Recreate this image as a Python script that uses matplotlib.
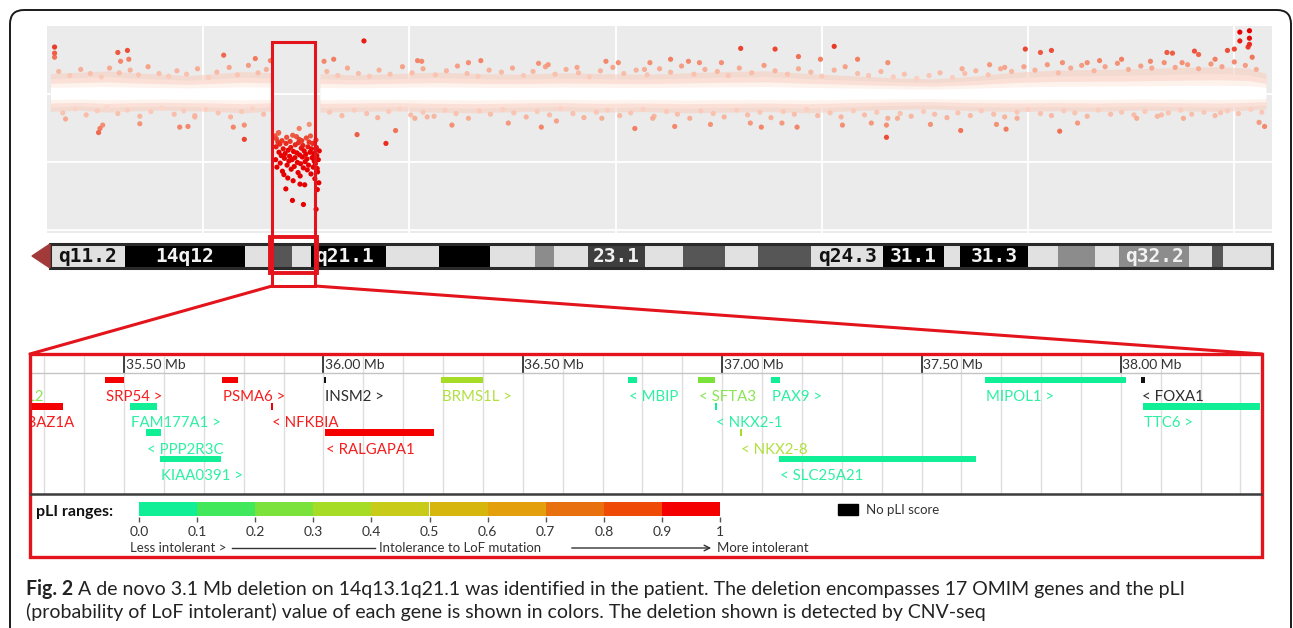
import matplotlib
matplotlib.use("Agg")
import matplotlib.pyplot as plt
import numpy as np
from matplotlib.colors import LinearSegmentedColormap, Normalize
from matplotlib.patches import Rectangle, Polygon, FancyBboxPatch, ConnectionPatch
from matplotlib.transforms import blended_transform_factory

W, H = 1293, 628
RED = "#e3141b"
FONT = ["Lato", "DejaVu Sans"]
plt.rcParams["font.family"] = FONT

# ---- chr14 CNV-seq log2 ratios (position in Mb, log2 ratio) ----
# outline of the dense band of bins around 0
band1_mb = [18.9, 21, 23, 25, 27, 29, 31, 33, 35.1]
band1_hi = [0.30, 0.32, 0.34, 0.31, 0.29, 0.27, 0.30, 0.33, 0.31]
band1_lo = [-0.26, -0.24, -0.27, -0.25, -0.24, -0.25, -0.26, -0.28, -0.25]
band2_mb = [38.5, 41, 44, 47, 50, 53, 56, 59, 62, 65, 68, 71, 74, 77, 80, 83,
            86, 89, 92, 95, 98, 101, 104, 106, 107.3]
band2_hi = [0.30, 0.28, 0.30, 0.32, 0.30, 0.29, 0.31, 0.30, 0.29, 0.31, 0.33,
            0.34, 0.30, 0.27, 0.24, 0.22, 0.26, 0.32, 0.35, 0.36, 0.37, 0.39,
            0.40, 0.38, 0.30]
band2_lo = [-0.27, -0.26, -0.25, -0.27, -0.28, -0.26, -0.25, -0.27, -0.26,
            -0.28, -0.27, -0.26, -0.28, -0.25, -0.23, -0.22, -0.25, -0.26,
            -0.25, -0.26, -0.24, -0.25, -0.26, -0.24, -0.22]

# bins at the edge of the band
edge_pts = [
    (19.5, .33), (20.3, .27), (21.1, .36), (21.8, .30), (22.6, .25), (23.2, .38),
    (23.9, .31), (24.7, .35), (25.3, .28), (26.0, .40), (26.8, .30), (27.5, .26),
    (28.1, .34), (28.8, .29), (29.6, .37), (30.4, .24), (31.0, .32), (31.9, .39),
    (32.5, .28), (33.3, .42), (34.0, .31), (34.6, .36), (39.0, .33), (39.8, .27),
    (40.5, .38), (41.3, .30), (42.1, .26), (42.8, .35), (43.6, .29), (44.5, .40),
    (45.2, .31), (46.0, .37), (46.9, .28), (47.7, .34), (48.5, .41), (49.2, .30),
    (50.0, .26), (50.8, .35), (51.7, .32), (52.5, .38), (53.3, .27), (54.0, .33),
    (54.9, .40), (55.6, .29), (56.4, .36), (57.3, .31), (58.1, .25), (58.9, .34),
    (59.8, .39), (60.6, .30), (61.5, .35), (62.3, .28), (63.2, .37), (64.0, .32),
    (64.8, .41), (65.7, .29), (66.5, .36), (67.4, .33), (68.2, .27), (69.0, .38),
    (69.9, .31), (70.8, .42), (71.6, .34), (72.5, .29), (73.3, .37), (74.2, .32),
    (75.0, .26), (75.9, .35), (76.7, .40), (77.6, .30), (78.4, .27), (79.3, .33),
    (80.2, .25), (81.0, .29), (81.9, .23), (82.8, .27), (83.6, .31), (84.5, .24),
    (85.4, .30), (86.2, .34), (87.1, .28), (88.0, .37), (88.8, .33), (89.7, .40),
    (90.5, .35), (91.4, .43), (92.2, .31), (93.1, .38), (93.9, .42), (94.8, .34),
    (95.6, .40), (96.5, .45), (97.3, .36), (98.2, .41), (99.0, .38), (99.9, .46),
    (100.7, .39), (101.6, .43), (102.4, .37), (103.3, .44), (104.1, .40),
    (105.0, .47), (105.8, .42), (106.6, .36),
    (19.8, -.28), (20.7, -.22), (21.5, -.31), (22.3, -.25), (23.0, -.20),
    (23.8, -.29), (24.5, -.24), (25.4, -.33), (26.2, -.26), (27.0, -.21),
    (27.9, -.30), (28.6, -.25), (29.4, -.32), (30.2, -.23), (31.1, -.28),
    (32.0, -.34), (32.8, -.26), (33.6, -.22), (34.4, -.30), (39.2, -.27),
    (40.1, -.32), (41.0, -.24), (41.9, -.29), (42.7, -.35), (43.5, -.26),
    (44.3, -.22), (45.1, -.31), (46.0, -.27), (46.8, -.33), (47.6, -.24),
    (48.4, -.29), (49.3, -.36), (50.1, -.25), (50.9, -.30), (51.8, -.23),
    (52.6, -.28), (53.5, -.34), (54.3, -.26), (55.2, -.31), (56.0, -.22),
    (56.9, -.29), (57.7, -.35), (58.6, -.27), (59.4, -.24), (60.3, -.32),
    (61.1, -.28), (62.0, -.23), (62.8, -.33), (63.7, -.26), (64.5, -.30),
    (65.4, -.36), (66.2, -.25), (67.1, -.29), (67.9, -.34), (68.8, -.24),
    (69.6, -.31), (70.5, -.27), (71.3, -.35), (72.2, -.26), (73.0, -.30),
    (73.9, -.23), (74.7, -.32), (75.6, -.28), (76.4, -.34), (77.3, -.25),
    (78.1, -.31), (79.0, -.27), (79.8, -.36), (80.7, -.29), (81.5, -.33),
    (82.4, -.26), (83.2, -.30), (84.1, -.35), (84.9, -.28), (85.8, -.32),
    (86.6, -.25), (87.5, -.30), (88.3, -.34), (89.2, -.27), (90.0, -.23),
    (90.9, -.29), (91.7, -.32), (92.6, -.25), (93.4, -.28), (94.3, -.33),
    (95.1, -.24), (96.0, -.30), (96.8, -.27), (97.7, -.31), (98.5, -.26),
    (99.4, -.33), (100.2, -.28), (101.1, -.24), (101.9, -.30), (102.8, -.27),
    (103.6, -.32), (104.5, -.25), (105.3, -.29), (106.2, -.23), (107.0, -.27),
]

# scattered bins away from the band
out_pts = [
    (19.2, .69), (19.2, .60), (19.2, .54), (23.8, .61), (24.5, .64), (24.0, .48),
    (24.6, .51), (31.5, .57), (33.8, .52), (34.9, .49), (41.7, .78), (39.5, .51),
    (38.8, .48), (45.6, .49), (45.9, .48), (49.3, .46), (50.2, .49), (54.4, .45),
    (55.1, .43), (57.2, .39), (59.3, .48), (60.2, .46), (62.1, .36), (69.1, .67),
    (71.6, .66), (75.9, .70), (73.3, .55), (74.9, .51), (77.6, .51), (79.8, .46),
    (62.5, .46), (64.0, .51), (65.3, .48), (66.1, .46), (67.7, .46), (85.2, .37),
    (87.2, .43), (88.3, .39), (89.8, .66), (90.9, .61), (91.7, .64), (92.5, .46),
    (94.3, .46), (95.2, .49), (96.8, .51), (100.1, .61), (100.5, .60),
    (102.1, .63), (102.4, .58), (104.5, .64), (105.0, .66), (105.4, .91),
    (106.1, .93), (105.4, .78), (106.1, .82), (106.1, .73), (106.0, .69),
    (98.9, .48), (101.2, .46), (103.6, .51), (106.3, .54),
    (20.0, -.37), (22.4, -.57), (22.5, -.51), (22.7, -.46), (25.4, -.44),
    (28.3, -.49), (28.9, -.48), (29.4, -.34), (32.2, -.49), (33.0, -.46),
    (33.0, -.67), (41.2, -.60), (43.3, -.73), (44.0, -.54), (45.4, -.36),
    (46.3, -.34), (48.1, -.46), (52.2, -.43), (54.6, -.49), (55.7, -.40),
    (59.0, -.36), (61.4, -.51), (62.7, -.36), (64.3, -.48), (66.9, -.45),
    (69.8, -.43), (70.6, -.49), (72.1, -.43), (73.2, -.49), (76.5, -.46),
    (78.6, -.43), (79.7, -.64), (79.7, -.46), (80.5, -.36), (82.9, -.45),
    (85.1, -.54), (87.7, -.45), (88.4, -.52), (89.2, -.36), (92.3, -.55),
    (93.6, -.43), (97.9, -.36), (99.7, -.31), (101.3, -.36), (104.0, -.28),
    (106.8, -.42), (107.2, -.48),
]

# bins inside the deletion
del_pts = [
    (35.22, -.62), (35.31, -.78), (35.28, -.97), (35.44, -.71), (35.37, -1.08),
    (35.52, -.86), (35.33, -.66), (35.61, -1.02), (35.58, -.74), (35.69, -.91),
    (35.47, -.58), (35.77, -1.14), (35.83, -.81), (35.74, -.69), (35.92, -.95),
    (35.88, -1.19), (36.03, -.73), (35.97, -.88), (36.11, -1.05), (36.08, -.64),
    (36.19, -.83), (36.24, -.99), (36.16, -1.24), (36.33, -.70), (36.29, -.92),
    (36.41, -1.11), (36.38, -.79), (36.52, -.61), (36.47, -.97), (36.58, -.85),
    (36.63, -1.07), (36.55, -1.28), (36.71, -.75), (36.68, -.94), (36.79, -.63),
    (36.86, -1.01), (36.82, -.87), (36.94, -.72), (36.91, -1.16), (37.02, -.90),
    (36.99, -.67), (37.09, -1.03), (37.14, -.80), (37.06, -1.21), (37.22, -.93),
    (37.18, -.69), (37.29, -1.09), (37.35, -.84), (37.26, -.76), (37.42, -1.00),
    (37.39, -1.34), (37.51, -.65), (37.47, -.89), (37.58, -1.12), (37.63, -.78),
    (37.55, -.96), (37.71, -.71), (37.67, -1.05), (37.78, -.86), (37.85, -1.18),
    (37.81, -.62), (37.93, -.94), (37.89, -.81), (38.01, -1.08), (37.97, -.73),
    (38.08, -.99), (38.13, -1.25), (38.05, -.88), (38.21, -.68), (38.17, -1.03),
    (38.27, -.91), (38.33, -1.15), (38.24, -.79), (38.38, -.97), (38.42, -1.31),
    (38.30, -1.10), (38.45, -.84), (36.02, -1.40), (36.50, -1.57), (37.30, -1.63),
    (37.05, -1.33), (38.22, -1.70), (38.31, -1.41), (35.50, -.57), (36.99, -.51),
    (37.72, -.45),
]
del_start, del_end = 35.02, 38.15

grid_mb = [30, 45, 60, 75, 90, 105]
grid_lr = [0, -1, -2]

# ---- chr14 q-arm ideogram ----
band_start = [18.87, 24.33, 33.05, 35.10, 36.47, 37.85, 43.31, 47.16, 50.87,
              54.15, 55.53, 58.00, 62.15, 64.91, 67.96, 70.36, 74.22, 79.45,
              83.89, 85.05, 90.00, 92.18, 94.87, 96.62, 101.71, 103.38, 104.18]
q_end = 107.74
band_stain = ["gneg", "gpos100", "gneg", "gpos50", "gneg", "gpos100", "gneg",
              "gpos100", "gneg", "gpos25", "gneg", "gpos75", "gneg", "gpos50",
              "gneg", "gpos50", "gneg", "gpos100", "gneg", "gpos100", "gneg",
              "gpos25", "gneg", "gpos25", "gneg", "gpos50", "gneg"]
band_name = ["q11.2", "14q12", "", "", "", "q21.1", "", "", "", "", "", "23.1",
             "", "", "", "", "q24.3", "31.1", "", "31.3", "", "", "", "q32.2",
             "", "", ""]
stain_color = {"gneg": "#e1e1e1", "gpos25": "#8c8c8c", "gpos50": "#565656",
               "gpos75": "#3e3e3e", "gpos100": "#000000"}

# ---- genes in the deleted region ----
gene_name = ["CFL2", "BAZ1A", "SRP54", "FAM177A1", "PPP2R3C", "KIAA0391",
             "PSMA6", "NFKBIA", "INSM2", "RALGAPA1", "BRMS1L", "MBIP", "SFTA3",
             "NKX2-1", "NKX2-8", "PAX9", "SLC25A21", "MIPOL1", "FOXA1", "TTC6"]
gene_start = [35.176, 35.222, 35.451, 35.514, 35.554, 35.589, 35.746, 35.869,
              36.002, 36.004, 36.294, 36.764, 36.940, 36.982, 37.045, 37.123,
              37.143, 37.660, 38.051, 38.056]
gene_end = [35.180, 35.346, 35.500, 35.582, 35.592, 35.743, 35.786, 35.874,
            36.007, 36.278, 36.400, 36.787, 36.981, 36.987, 37.048, 37.145,
            37.637, 38.013, 38.061, 38.725]
gene_strand = ["-", "-", "+", "+", "-", "+", "+", "-", "+", "-", "+", "-", "-",
               "-", "-", "+", "-", "+", "-", "+"]
gene_row = [0, 1, 0, 1, 2, 3, 0, 1, 0, 2, 0, 0, 0, 1, 2, 0, 3, 0, 0, 1]
gene_pli = [0.25, 1.0, 0.99, 0.02, 0.01, 0.0, 0.96, 0.93, None, 1.0, 0.36,
            0.05, 0.27, 0.04, 0.31, 0.08, 0.0, 0.0, None, 0.0]
panel_ticks = [35.5, 36.0, 36.5, 37.0, 37.5, 38.0]
panel_minor = [35.3, 35.4, 35.5, 35.6, 35.7, 35.8, 35.9, 36.0, 36.1, 36.2,
               36.3, 36.4, 36.5, 36.6, 36.7, 36.8, 36.9, 37.0, 37.1, 37.2,
               37.3, 37.4, 37.5, 37.6, 37.7, 37.8, 37.9, 38.0, 38.1, 38.2, 38.3]

# ---- pLI legend ----
pli_edges = [0.0, 0.1, 0.2, 0.3, 0.4, 0.5, 0.6, 0.7, 0.8, 0.9, 1.0]
pli_labels = ["0.0", "0.1", "0.2", "0.3", "0.4", "0.5", "0.6", "0.7", "0.8",
              "0.9", "1"]
pli_colors = ["#10ee96", "#42e85c", "#7ae23a", "#a6dc26", "#c8cc18", "#d6b60c",
              "#e4a00c", "#e8700e", "#ef4a06", "#f40000"]


def pli_color(p):
    if p is None:
        return "#111111"
    return pli_colors[min(int(p * 10), 9)]


fig = plt.figure(figsize=(W / 100, H / 100), dpi=100)


def px_axes(x0, y0, x1, y1, z=1):
    return fig.add_axes([x0 / W, 1 - y1 / H, (x1 - x0) / W, (y1 - y0) / H], zorder=z)


# ---------------- scatter of log2 ratios ----------------
sc = px_axes(47, 26, 1272, 233)
sc.set_facecolor("#ebebeb")
sc.set_xlim(18.65, 107.74)
sc.set_ylim(-2.05, 1.0)
for s in sc.spines.values():
    s.set_visible(False)
sc.set_xticks([])
sc.set_yticks([])
for g in grid_mb:
    sc.axvline(g, color="white", lw=1.3, zorder=1)
for g in grid_lr:
    sc.axhline(g, color="white", lw=1.3, zorder=1)

# band drawn in layers, pink at the edge and white in the middle
layer_k = [1.0, 0.75, 0.52, 0.32]
layer_c = ["#f9cfc1", "#fce2d9", "#fef2ed", "#ffffff"]
layer_a = [0.6, 0.8, 1.0, 1.0]
for bx, bh, bl in [(band1_mb, band1_hi, band1_lo), (band2_mb, band2_hi, band2_lo)]:
    for k, c, a in zip(layer_k, layer_c, layer_a):
        sc.fill_between(bx, np.array(bl) * k, np.array(bh) * k, color=c, lw=0,
                        zorder=2, alpha=a)

cmap = LinearSegmentedColormap.from_list(
    "cnv", ["#ffffff", "#fce0d6", "#f8b49e", "#f27f62", "#ea3f2c", "#e60000"])
norm = Normalize(0, 0.85)
pts = np.array(edge_pts + out_pts + del_pts)
order = np.argsort(np.abs(pts[:, 1]))
pts = pts[order]
sc.scatter(pts[:, 0], pts[:, 1], c=cmap(norm(np.abs(pts[:, 1]))), s=14, lw=0,
           zorder=3)

# ---------------- ideogram ----------------
ideo = px_axes(47, 244, 1272, 268)
ideo.set_xlim(sc.get_xlim())
ideo.set_ylim(0, 1)
ideo.axis("off")
band_end = band_start[1:] + [q_end]
for s, e, st, name in zip(band_start, band_end, band_stain, band_name):
    ideo.add_patch(Rectangle((s, 0), e - s, 1, color=stain_color[st], lw=0))
    if name:
        tc = "#111111" if st == "gneg" else "#f2f2f2"
        if name == "q21.1":
            ideo.text(s + 0.3, 0.46, name, ha="left", va="center", color=tc,
                      family="DejaVu Sans Mono", fontsize=14, weight="bold")
        else:
            ideo.text((s + e) / 2, 0.46, name, ha="center", va="center", color=tc,
                      family="DejaVu Sans Mono", fontsize=14, weight="bold")
ideo.add_patch(Rectangle((band_start[0], 0), q_end - band_start[0], 1, fill=False,
                         ec="#2a2a2a", lw=2.2, clip_on=False))
ideo.add_patch(Polygon([(17.56, 0.5), (band_start[0], 1.0), (band_start[0], 0.0)],
                       closed=True, color="#a33a3a", clip_on=False))

# ---------------- gene panel ----------------
gp = px_axes(30, 354, 1260, 494, z=2)
gp.set_xlim(35.264, 38.349)
gp.set_ylim(4.335, -0.989)
gp.axis("off")
gp.vlines(panel_minor, -0.91, 4.335, color="#dedede", lw=1, zorder=1)
gp.vlines(panel_ticks, -0.91, -0.266, color="#222222", lw=1.2, zorder=2)
gp.axhline(-0.266, color="#c4c4c4", lw=1, zorder=2)
for m in panel_ticks:
    gp.text(m + 0.004, -0.56, f"{m:.2f} Mb", ha="left", va="center", fontsize=10,
            color="#333333")

for name, s, e, sd, r, p in zip(gene_name, gene_start, gene_end, gene_strand,
                                gene_row, gene_pli):
    col = pli_color(p)
    gp.add_patch(Rectangle((s, r - 0.125), max(e - s, 0.004), 0.25, color=col,
                           lw=0, zorder=3))
    lab = f"{name} >" if sd == "+" else f"< {name}"
    gp.text(s + 0.003, r + 0.65, lab, ha="left", va="center", fontsize=10.8,
            color=col, alpha=0.88, clip_on=True, zorder=4)

# ---------------- pLI colour legend ----------------
cb = px_axes(139, 502, 720, 516, z=2)
cb.set_xlim(0, 1)
cb.set_ylim(0, 1)
cb.axis("off")
for lo, c in zip(pli_edges[:-1], pli_colors):
    cb.add_patch(Rectangle((lo, 0), 0.1, 1, color=c, lw=0))
cb.vlines(pli_edges, -0.45, -0.05, color="#555555", lw=1, clip_on=False)
for e, t in zip(pli_edges, pli_labels):
    cb.text(e, -1.15, t, ha="center", va="center", fontsize=10, color="#333333",
            clip_on=False)

# ---------------- overlay: frame, zoom box, caption ----------------
ov = fig.add_axes([0, 0, 1, 1], zorder=10)
ov.set_xlim(0, W)
ov.set_ylim(H, 0)
ov.axis("off")

ov.add_patch(FancyBboxPatch((10, 10), 1281, 700,
                            boxstyle="round,pad=0,rounding_size=14",
                            fc="none", ec="#1a1a1a", lw=1.4))

bt = blended_transform_factory(sc.transData, ov.transData)
ov.add_patch(Rectangle((del_start, 42), del_end - del_start, 244, transform=bt,
                       fill=False, ec=RED, lw=2.2))
ov.add_patch(Rectangle((del_start - 0.15, 237), del_end - del_start + 0.3, 36,
                       transform=bt, fill=False, ec=RED, lw=2.8))
ov.add_artist(ConnectionPatch(xyA=(del_start, 286), coordsA=bt, xyB=(30, 354),
                              coordsB=ov.transData, color=RED, lw=2.2))
ov.add_artist(ConnectionPatch(xyA=(del_end, 286), coordsA=bt, xyB=(1262, 354),
                              coordsB=ov.transData, color=RED, lw=2.2))
ov.add_patch(Rectangle((30, 354), 1232, 203, fill=False, ec=RED, lw=2.4))
ov.plot([31, 1261], [494, 494], color="#3c3c3c", lw=1.8)

ov.text(36, 512, "pLI ranges:", ha="left", va="center", fontsize=11.5,
        weight="bold", color="#111111")
ov.text(130, 548, "Less intolerant >", ha="left", va="center", fontsize=9.5,
        color="#333333")
ov.plot([232, 375], [548, 548], color="#333333", lw=1)
ov.text(379, 548, "Intolerance to LoF mutation", ha="left", va="center",
        fontsize=9.5, color="#333333")
ov.annotate("", xy=(714, 548), xytext=(569, 548),
            arrowprops=dict(arrowstyle="->", color="#333333", lw=1))
ov.text(717, 548, "More intolerant", ha="left", va="center", fontsize=9.5,
        color="#333333")
ov.add_patch(Rectangle((838, 504), 20, 11, color="#000000"))
ov.text(866, 510, "No pLI score", ha="left", va="center", fontsize=9.5,
        color="#333333")

cap_size = 12.5
b1 = ov.text(26, 589, "Fig. 2", ha="left", va="center", fontsize=cap_size,
             weight="bold", color="#222222")
r1 = ov.annotate(" A de novo 3.1 Mb deletion on 14q13.1q21.1 was identified in the "
                 "patient. The deletion encompasses 17 OMIM genes and the pLI",
                 xy=(1, 0.5), xycoords=b1, ha="left", va="center",
                 fontsize=cap_size, color="#222222")
l2 = ov.text(26, 612, "(probability of LoF intolerant) value of each gene is shown "
             "in colors. The deletion shown is detected by CNV-seq", ha="left",
             va="center", fontsize=cap_size, color="#222222")

# scale caption so the first line spans the same width as in the figure
fig.canvas.draw()
rnd = fig.canvas.get_renderer()
wid = b1.get_window_extent(rnd).width + r1.get_window_extent(rnd).width
new = cap_size * 1166 / wid
for t in (b1, r1, l2):
    t.set_fontsize(new)

fig.savefig("out.png", dpi=100, facecolor="white")
